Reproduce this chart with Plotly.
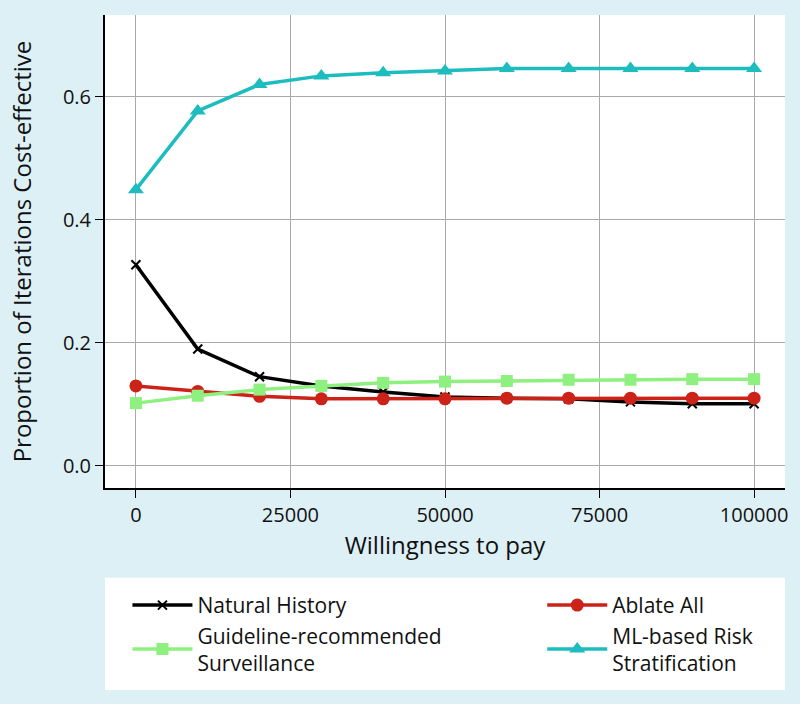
import plotly.graph_objects as go

wtp = [0, 10000, 20000, 30000, 40000, 50000, 60000, 70000, 80000, 90000, 100000]
natural_history = [0.327, 0.190, 0.145, 0.130, 0.120, 0.112, 0.110, 0.109, 0.104, 0.101, 0.101]
ablate_all = [0.130, 0.121, 0.113, 0.109, 0.109, 0.109, 0.110, 0.110, 0.110, 0.110, 0.110]
guideline = [0.102, 0.114, 0.124, 0.130, 0.135, 0.137, 0.138, 0.140, 0.140, 0.141, 0.141]
ml_based = [0.449, 0.577, 0.620, 0.634, 0.639, 0.642, 0.646, 0.646, 0.646, 0.646, 0.646]

names = ["Natural History", "Ablate All", "Guideline-recommended<br>Surveillance", "ML-based Risk<br>Stratification"]
series = [natural_history, ablate_all, guideline, ml_based]
colors = ["#000000", "#cc2218", "#8ef07e", "#1cbcbf"]
symbols = ["x-thin", "circle", "square", "triangle-up"]
sizes = [9, 13, 12, 14]
legends = ["legend", "legend2", "legend", "legend2"]
x_ticks = [0, 25000, 50000, 75000, 100000]
y_ticks = [0, 0.2, 0.4, 0.6]

fig = go.Figure()
for n, s, c, sym, sz, lg in zip(names, series, colors, symbols, sizes, legends):
    marker = dict(color=c, symbol=sym, size=sz)
    if sym == "x-thin":
        marker["line"] = dict(color=c, width=2)
    fig.add_trace(go.Scatter(x=wtp, y=s, mode="lines+markers", name=n, legend=lg,
                             line=dict(color=c, width=3.5), marker=marker))

font_family = "Open Sans, Noto Sans, sans-serif"
leg_common = dict(orientation="v", yanchor="top", y=-0.205, bgcolor="rgba(0,0,0,0)",
                  font=dict(size=21, family=font_family), traceorder="normal",
                  tracegroupgap=0, itemwidth=60)
fig.update_layout(
    width=800, height=704,
    paper_bgcolor="#ddf0f5",
    plot_bgcolor="#ffffff",
    margin=dict(l=105, r=15, t=15, b=216),
    font=dict(family=font_family, size=20, color="#111111"),
    showlegend=True,
    legend=dict(x=0.033, xanchor="left", **leg_common),
    legend2=dict(x=0.643, xanchor="left", **leg_common),
    shapes=[dict(type="rect", xref="paper", yref="paper", x0=0, x1=1, y0=-0.427, y1=-0.19,
                 fillcolor="#ffffff", line=dict(width=0), layer="below")],
)
fig.update_xaxes(range=[-5000, 105000], tickvals=x_ticks,
                 ticktext=[str(v) for v in x_ticks],
                 showgrid=True, gridcolor="#aaaaaa", gridwidth=1,
                 showline=True, linecolor="#000000", linewidth=2,
                 ticks="outside", ticklen=8, tickcolor="#000000",
                 zeroline=False, title=dict(text="Willingness to pay", standoff=8))
fig.update_yaxes(range=[-0.036, 0.733], tickvals=y_ticks,
                 ticktext=[f"{v:.1f}" for v in y_ticks],
                 showgrid=True, gridcolor="#aaaaaa", gridwidth=1,
                 showline=True, linecolor="#000000", linewidth=2,
                 ticks="outside", ticklen=8, tickcolor="#000000",
                 zeroline=False, title=dict(text="Proportion of Iterations Cost-effective", standoff=24))

fig.write_html("out.html", config={"displayModeBar": False},
               post_script="document.body.style.margin='0';")
